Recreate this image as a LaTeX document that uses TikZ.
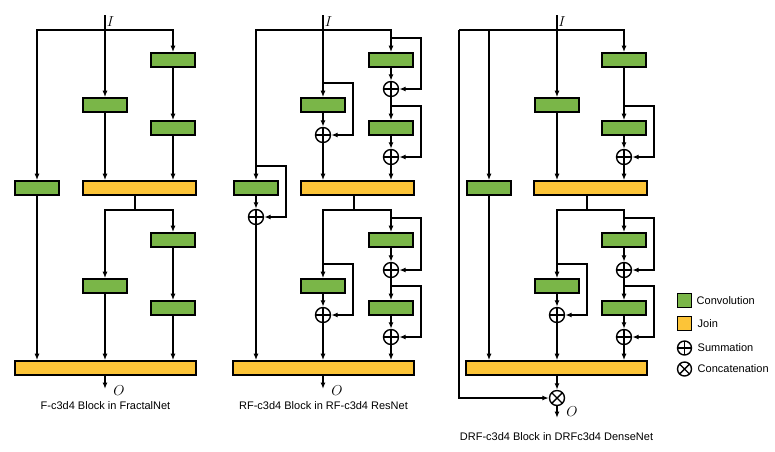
\documentclass[tikz,border=0pt]{standalone}
\usepackage{fontspec}
\setmainfont{Liberation Sans}
\usetikzlibrary{arrows.meta}
\definecolor{convgreen}{HTML}{7AB648}
\definecolor{joinyellow}{HTML}{FCC438}
\tikzset{
  conv/.style={draw, line width=1.6pt, fill=convgreen, minimum width=44pt, minimum height=14pt, inner sep=0pt},
  joinbox/.style={draw, line width=1.6pt, fill=joinyellow, minimum height=14pt, inner sep=0pt},
  sumop/.style={circle, draw, minimum size=15pt, inner sep=0pt,
    path picture={\draw (path picture bounding box.north) -- (path picture bounding box.south)
                        (path picture bounding box.west) -- (path picture bounding box.east);}},
  catop/.style={circle, draw, minimum size=15pt, inner sep=0pt,
    path picture={\draw (path picture bounding box.north west) -- (path picture bounding box.south east)
                        (path picture bounding box.south west) -- (path picture bounding box.north east);}},
  flow/.style={-{Latex[length=6.5pt,width=5pt]}},
  iolabel/.style={inner sep=0pt, font=\fontsize{15}{17}\selectfont},
}
\begin{document}
\begin{tikzpicture}[x=1pt,y=-1pt,line width=1.4pt,font=\fontsize{11}{13}\selectfont]
\useasboundingbox (0,0) rectangle (775,451);

% F-c3d4 block
\node[conv] (fc1) at (173,60) {};
\node[conv] (fc2) at (173,128) {};
\node[conv] (fb1) at (105,105) {};
\node[conv] (fa1) at (37,188) {};
\node[joinbox, minimum width=113pt] (fj1) at (139.5,188) {};
\node[conv] (fc3) at (173,240) {};
\node[conv] (fc4) at (173,308) {};
\node[conv] (fb2) at (105,286) {};
\node[joinbox, minimum width=181pt] (fj2) at (105.5,368) {};
\coordinate (fin) at (105,15);
\coordinate (fsplit) at (105,30);
\coordinate (fmid) at (135,210);
\coordinate (fout) at (105,389);
\node[iolabel] (fi) at (110.5,22) {$I$};
\node[iolabel] (fo) at (119,391) {$O$};
\node (fcap) at (105.5,406) {F-c3d4 Block in FractalNet};

\draw (fin) -- (fsplit);
\draw[flow] (fsplit) -| (fa1);
\draw[flow] (fsplit) -| (fc1);
\draw[flow] (fsplit) -- (fb1);
\draw[flow] (fc1) -- (fc2);
\draw[flow] (fc2) -- (fc2 |- fj1.north);
\draw[flow] (fb1) -- (fb1 |- fj1.north);
\draw[flow] (fa1) -- (fa1 |- fj2.north);
\draw (fj1.south -| fmid) -- (fmid);
\draw[flow] (fmid) -| (fb2);
\draw[flow] (fmid) -| (fc3);
\draw[flow] (fc3) -- (fc4);
\draw[flow] (fc4) -- (fc4 |- fj2.north);
\draw[flow] (fb2) -- (fb2 |- fj2.north);
\draw[flow] (fj2.south -| fout) -- (fout);

% RF-c3d4 block
\node[conv] (rc1) at (391,60) {};
\node[sumop] (rs1) at (391,89) {};
\node[conv] (rc2) at (391,128) {};
\node[sumop] (rs2) at (391,157) {};
\node[conv] (rb1) at (323,105) {};
\node[sumop] (rt1) at (323,135) {};
\node[conv] (ra1) at (256,188) {};
\node[sumop] (ru1) at (256,217) {};
\node[joinbox, minimum width=113pt] (rj1) at (357.5,188) {};
\node[conv] (rc3) at (391,240) {};
\node[sumop] (rs3) at (391,270) {};
\node[conv] (rc4) at (391,308) {};
\node[sumop] (rs4) at (391,337) {};
\node[conv] (rb2) at (323,286) {};
\node[sumop] (rt2) at (323,315) {};
\node[joinbox, minimum width=181pt] (rj2) at (323.5,368) {};
\coordinate (rin) at (323,15);
\coordinate (rsplit) at (323,30);
\coordinate (rmid) at (354,210);
\coordinate (rout) at (323,389);
\node[iolabel] (ri) at (328.5,22) {$I$};
\node[iolabel] (ro) at (337,391) {$O$};
\node (rcap) at (323.5,406) {RF-c3d4 Block in RF-c3d4 ResNet};

\draw (rin) -- (rsplit);
\draw[flow] (rsplit) -| (ra1);
\draw[flow] (rsplit) -| (rc1);
\draw[flow] (rsplit) -- (rb1);
\draw[flow] (rc1) -- (rs1);
\draw[flow] (rs1) -- (rc2);
\draw[flow] (rc2) -- (rs2);
\draw[flow] (rs2) -- (rs2 |- rj1.north);
\draw[flow] (rb1) -- (rt1);
\draw[flow] (rt1) -- (rt1 |- rj1.north);
\draw[flow] (ra1) -- (ru1);
\draw[flow] (ru1) -- (ru1 |- rj2.north);
\draw (rj1.south -| rmid) -- (rmid);
\draw[flow] (rmid) -| (rb2);
\draw[flow] (rmid) -| (rc3);
\draw[flow] (rc3) -- (rs3);
\draw[flow] (rs3) -- (rc4);
\draw[flow] (rc4) -- (rs4);
\draw[flow] (rs4) -- (rs4 |- rj2.north);
\draw[flow] (rb2) -- (rt2);
\draw[flow] (rt2) -- (rt2 |- rj2.north);
\draw[flow] (rj2.south -| rout) -- (rout);
% residual skips
\draw[flow] ([yshift=14.2pt]rc1.north) -- ++(30,0) |- (rs1);
\draw[flow] ([yshift=14.2pt]rc2.north) -- ++(30,0) |- (rs2);
\draw[flow] ([yshift=14.2pt]rb1.north) -- ++(30,0) |- (rt1);
\draw[flow] ([yshift=14.2pt]ra1.north) -- ++(30,0) |- (ru1);
\draw[flow] ([yshift=14.2pt]rc3.north) -- ++(30,0) |- (rs3);
\draw[flow] ([yshift=14.2pt]rc4.north) -- ++(30,0) |- (rs4);
\draw[flow] ([yshift=14.2pt]rb2.north) -- ++(30,0) |- (rt2);

% DRF-c3d4 block
\node[conv] (dc1) at (624,60) {};
\node[conv] (dc2) at (624,128) {};
\node[sumop] (ds2) at (624,157) {};
\node[conv] (db1) at (557,105) {};
\node[conv] (da1) at (489,188) {};
\node[joinbox, minimum width=113pt] (dj1) at (590.5,188) {};
\node[conv] (dc3) at (624,240) {};
\node[sumop] (ds3) at (624,270) {};
\node[conv] (dc4) at (624,308) {};
\node[sumop] (ds4) at (624,337) {};
\node[conv] (db2) at (557,286) {};
\node[sumop] (dt2) at (557,315) {};
\node[joinbox, minimum width=181pt] (dj2) at (556.5,368) {};
\node[catop] (dcat) at (557,398) {};
\coordinate (din) at (557,15);
\coordinate (dsplit) at (557,30);
\coordinate (dleft) at (459,30);
\coordinate (dmid) at (587,210);
\coordinate (dout) at (557,418);
\node[iolabel] (di) at (562,22) {$I$};
\node[iolabel] (do) at (572,412) {$O$};
\node (dcap) at (556.5,437) {DRF-c3d4 Block in DRFc3d4 DenseNet};

\draw (din) -- (dsplit);
\draw (dsplit) -- (dleft);
\draw[flow] (dleft) |- (dcat);
\draw[flow] (dsplit) -| (da1);
\draw[flow] (dsplit) -| (dc1);
\draw[flow] (dsplit) -- (db1);
\draw[flow] (dc1) -- (dc2);
\draw[flow] (dc2) -- (ds2);
\draw[flow] (ds2) -- (ds2 |- dj1.north);
\draw[flow] (db1) -- (db1 |- dj1.north);
\draw[flow] (da1) -- (da1 |- dj2.north);
\draw (dj1.south -| dmid) -- (dmid);
\draw[flow] (dmid) -| (db2);
\draw[flow] (dmid) -| (dc3);
\draw[flow] (dc3) -- (ds3);
\draw[flow] (ds3) -- (dc4);
\draw[flow] (dc4) -- (ds4);
\draw[flow] (ds4) -- (ds4 |- dj2.north);
\draw[flow] (db2) -- (dt2);
\draw[flow] (dt2) -- (dt2 |- dj2.north);
\draw[flow] (dj2.south -| dcat) -- (dcat);
\draw[flow] (dcat) -- (dout);
% residual skips
\draw[flow] ([yshift=14.2pt]dc2.north) -- ++(30,0) |- (ds2);
\draw[flow] ([yshift=14.2pt]dc3.north) -- ++(30,0) |- (ds3);
\draw[flow] ([yshift=14.2pt]dc4.north) -- ++(30,0) |- (ds4);
\draw[flow] ([yshift=14.2pt]db2.north) -- ++(30,0) |- (dt2);

% legend
\node[conv, minimum width=14pt] (lconv) at (684.5,300.5) {};
\node[joinbox, minimum width=14pt] (ljoin) at (684.5,323.5) {};
\node[sumop, minimum size=14pt] (lsum) at (684.5,348) {};
\node[catop, minimum size=14pt] (lcat) at (684.5,369) {};
\node[anchor=west, inner sep=0pt] (tconv) at (696,300.5) {Convolution};
\node[anchor=west, inner sep=0pt] (tjoin) at (697,323.5) {Join};
\node[anchor=west, inner sep=0pt] (tsum) at (697,348) {Summation};
\node[anchor=west, inner sep=0pt] (tcat) at (697,369) {Concatenation};
\end{tikzpicture}
\end{document}
